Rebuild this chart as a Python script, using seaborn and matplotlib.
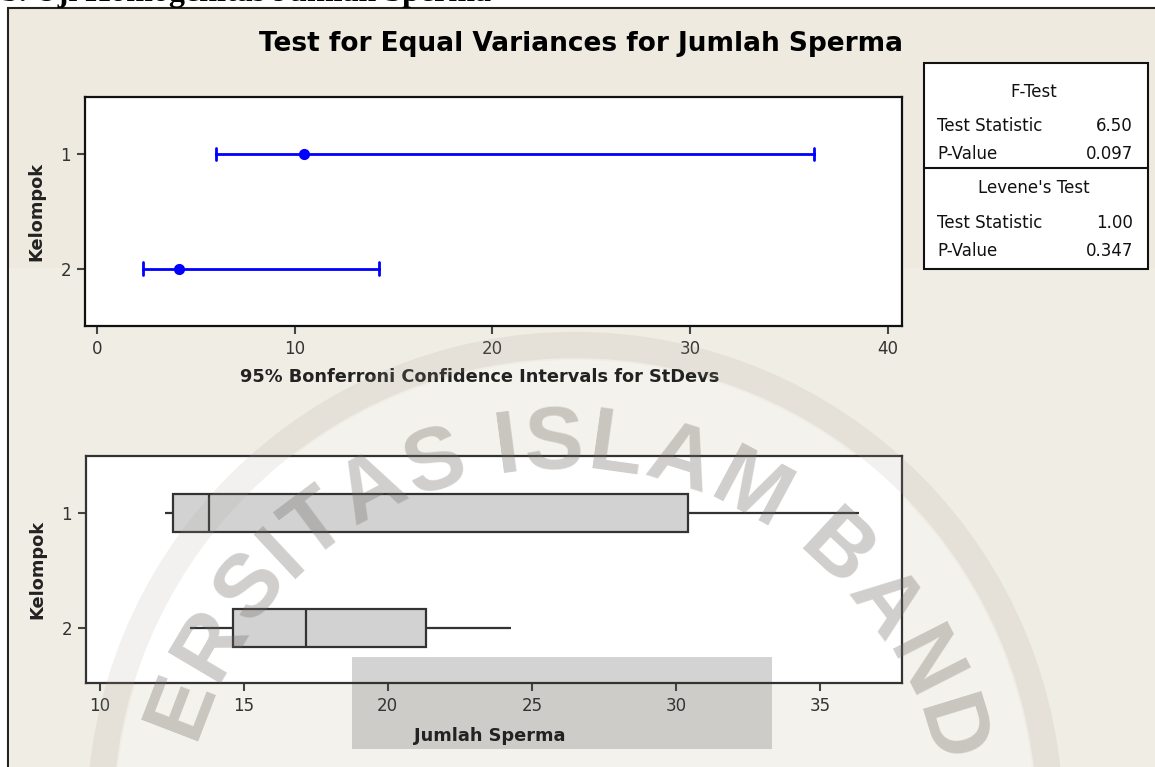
import numpy as np
import pandas as pd
import matplotlib
matplotlib.use("Agg")
import matplotlib.pyplot as plt
from matplotlib.patches import Rectangle, Circle
import seaborn as sns

# ---------------- data ----------------
groups = ["1", "2"]
# 95% Bonferroni confidence intervals for StDevs
ci_lower = [6.0, 2.34]
ci_stdev = [10.47, 4.15]
ci_upper = [36.25, 14.28]
# box plot summary of Jumlah Sperma (min, Q1, median, Q3, max)
box_min = [12.27, 13.14]
box_q1 = [12.56, 14.63]
box_med = [13.80, 17.16]
box_q3 = [30.40, 21.31]
box_max = [36.35, 24.27]

ci_ticks = [0, 10, 20, 30, 40]
box_ticks = [10, 15, 20, 25, 30, 35]

f_test = [("Test Statistic", "6.50"), ("P-Value", "0.097")]
levene_test = [("Test Statistic", "1.00"), ("P-Value", "0.347")]

title = "Test for Equal Variances for Jumlah Sperma"
heading = "b. Uji Homogenitas Jumlah Sperma"
watermark = "ERSITAS ISLAM BAND"

# ---------------- style ----------------
sns.set_theme(style="white")
plt.rcParams["font.family"] = ["DejaVu Sans"]

W, H = 1155, 767
fig = plt.figure(figsize=(W / 100, H / 100), dpi=100)
fig.patch.set_facecolor("white")

def fx(px):
    return px / W

def fy(py):
    return 1 - py / H

def pin(px, py):
    # pixel (from top-left) -> inches for fig.dpi_scale_trans
    return px / 100, (H - py) / 100

# cream panel (Minitab graph window)
fig.patches.append(Rectangle((fx(8), -0.1), 1.2, fy(8) + 0.1, transform=fig.transFigure,
                             facecolor="#eeeae0", edgecolor="#222222", linewidth=1.5,
                             zorder=-3))
fig.patches.append(Rectangle((fx(9), -0.1), 1.2, fy(268) + 0.1, transform=fig.transFigure,
                             facecolor="#f0ede5", edgecolor="none", zorder=-2))

# cut-off heading of the document
fig.text(fx(1), fy(0.5), heading, family="Liberation Serif", weight="bold",
         fontsize=23, va="baseline", ha="left", color="black")

fig.text(fx(581), fy(44), title, fontsize=19, weight="bold", ha="center",
         va="center", color="black")

tick_color = "#444444"
label_color = "#222222"
lab_size = 12.8

# ---------------- top panel: CI ----------------
ax1 = fig.add_axes([fx(85), fy(325.7), fx(902 - 85), (325.7 - 97) / H])
ax1.set_facecolor("white")
ci_df = pd.DataFrame({
    "Kelompok": np.repeat(groups, 3),
    "StDev": np.ravel(np.column_stack([ci_lower, ci_stdev, ci_upper])),
})
sns.pointplot(data=ci_df, x="StDev", y="Kelompok", order=groups, orient="h",
              estimator=np.median, errorbar=lambda v: (np.min(v), np.max(v)),
              color="#0000ff", linestyle="none", markers="o", markersize=6,
              err_kws={"linewidth": 2}, capsize=0.11, ax=ax1)
ax1.set_xlim(-0.61, 40.72)
ax1.set_ylim(1.5, -0.5)
ax1.set_xticks(ci_ticks)
ax1.set_xlabel("95% Bonferroni Confidence Intervals for StDevs", fontsize=lab_size,
               weight="bold", color=label_color)
ax1.set_ylabel("Kelompok", fontsize=lab_size, weight="bold", color=label_color)
for s in ax1.spines.values():
    s.set_color("#111111")
    s.set_linewidth(1.6)

# ---------------- bottom panel: box plot ----------------
ax2 = fig.add_axes([fx(86), fy(683.3), fx(902 - 86), (683.3 - 455.7) / H])
ax2.set_facecolor("white")
box_df = pd.DataFrame({
    "Kelompok": np.repeat(groups, 5),
    "Jumlah Sperma": np.ravel(np.column_stack([box_min, box_q1, box_med, box_q3, box_max])),
})
sns.boxplot(data=box_df, x="Jumlah Sperma", y="Kelompok", order=groups, orient="h",
            width=0.335, color="#d2d2d2", saturation=1, linecolor="#333333",
            linewidth=1.6, whis=(0, 100), showcaps=False, showfliers=False, ax=ax2)
ax2.set_xlim(9.53, 37.84)
ax2.set_ylim(1.48, -0.5)
ax2.set_xticks(box_ticks)
ax2.set_xlabel("Jumlah Sperma", fontsize=lab_size, weight="bold", color=label_color)
ax2.set_ylabel("Kelompok", fontsize=lab_size, weight="bold", color=label_color)
for s in ax2.spines.values():
    s.set_color("#333333")
    s.set_linewidth(1.6)

for ax in (ax1, ax2):
    ax.tick_params(axis="both", which="major", direction="out", length=6, width=1.5,
                   color=tick_color, labelsize=12, labelcolor="#333333", pad=4,
                   bottom=True, left=True)
    ax.yaxis.set_label_coords(-0.049, 0.5)

ax1.xaxis.set_label_coords(0.483, -0.183)
ax2.xaxis.set_label_coords(0.495, -0.19)

# ---------------- statistics table ----------------
tx0, tx1, ty0, ty1 = 924, 1148, 63, 269
fig.patches.append(Rectangle((fx(tx0), fy(ty1)), fx(tx1 - tx0), (ty1 - ty0) / H,
                             transform=fig.transFigure, facecolor="white",
                             edgecolor="#111111", linewidth=1.5, zorder=1))
fig.add_artist(plt.Line2D([fx(tx0), fx(tx1)], [fy(168), fy(168)],
                          transform=fig.transFigure, color="#111111", linewidth=1.5))
tkw = dict(fontsize=12, color="#111111", va="center")
fig.text(fx(1034), fy(92), "F-Test", ha="center", **tkw)
for (lab, val), y in zip(f_test, [126, 154]):
    fig.text(fx(937), fy(y), lab, ha="left", **tkw)
    fig.text(fx(1133), fy(y), val, ha="right", **tkw)
fig.text(fx(1034), fy(188), "Levene's Test", ha="center", **tkw)
for (lab, val), y in zip(levene_test, [223, 251]):
    fig.text(fx(937), fy(y), lab, ha="left", **tkw)
    fig.text(fx(1133), fy(y), val, ha="right", **tkw)

# ---------------- watermark (university seal) ----------------
rcx, rcy = 575, 820
fig.patches.append(Circle(pin(rcx, rcy), 4.6, transform=fig.dpi_scale_trans,
                          facecolor="white", edgecolor="none", alpha=0.3, zorder=-1))
fig.patches.append(Circle(pin(rcx, rcy), 4.75, transform=fig.dpi_scale_trans,
                          fill=False, edgecolor="#a9a396", alpha=0.15, linewidth=19,
                          zorder=4))
wcx, wcy = 560, 850
adv = {"E": .667, "R": .722, "S": .667, "I": .278, "T": .611, "A": .722,
       " ": .278, "L": .611, "M": .833, "B": .722, "N": .722, "D": .722}
widths = np.array([adv[c] for c in watermark])
centers = np.cumsum(widths) - widths / 2
theta0, theta1 = 159.0, 17.0
thetas = theta0 - (centers - centers[0]) / (centers[-1] - centers[0]) * (theta0 - theta1)
r_txt = 405
for ch, thd in zip(watermark, thetas):
    if ch == " ":
        continue
    th = np.deg2rad(thd)
    px = wcx + r_txt * np.cos(th)
    py = wcy - r_txt * np.sin(th)
    fig.text(fx(px), fy(py), ch, family="Liberation Sans", weight="bold", fontsize=64,
             color="#6e6a64", alpha=0.32, ha="center", va="center",
             rotation=thd - 90, rotation_mode="anchor", zorder=6)
# grey block of the seal (under the axis texts)
ax2.add_patch(Rectangle((fx(352), fy(749)), fx(772 - 352), (749 - 657) / H,
                        transform=fig.transFigure, facecolor="#939393",
                        edgecolor="none", alpha=0.4, zorder=0.5, clip_on=False))

fig.savefig("out.png", dpi=100, facecolor=fig.get_facecolor())
